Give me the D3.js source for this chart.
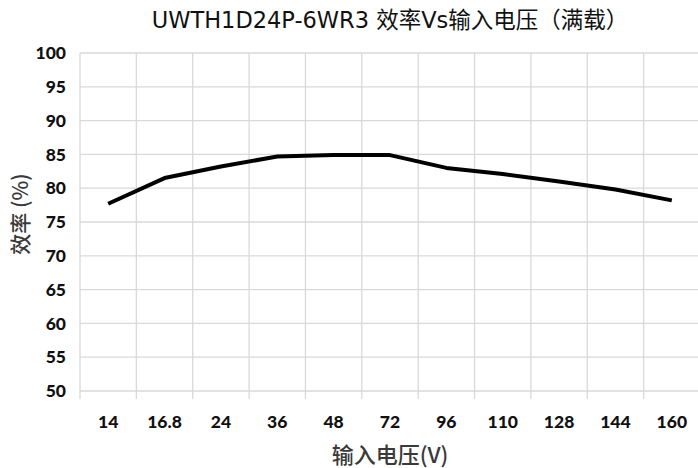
<!DOCTYPE html>
<html>
<head>
<meta charset="utf-8">
<script src="https://cdn.jsdelivr.net/npm/d3@7"></script>
<style>
    html, body { margin: 0; padding: 0; background: #fff; overflow: hidden; }
    svg { display: block; }
</style>
</head>
<body>
<div id="chart"></div>
<script>
// Chart data
const voltages = ["14", "16.8", "24", "36", "48", "72", "96", "110", "128", "144", "160"];
const efficiency = [77.7, 81.5, 83.2, 84.7, 84.9, 84.9, 83.0, 82.1, 81.0, 79.8, 78.2];
const yTicks = [50, 55, 60, 65, 70, 75, 80, 85, 90, 95, 100];

const width = 698, height = 468;
const margin = {top: 53, right: -2, bottom: 77, left: 80};

const svg = d3.select("#chart")
              .append("svg")
              .attr("width", width)
              .attr("height", height);

let x = d3.scaleBand()
          .domain(voltages)
          .range([margin.left, width - margin.right]);

let y = d3.scaleLinear()
          .domain([50, 100])
          .range([height - margin.bottom, margin.top]);

const gridColor = "#d9d9d9";
const tickFont = "Lato, 'Open Sans', sans-serif";

// Horizontal grid lines
svg.append("g")
   .selectAll("line")
   .data(yTicks)
   .enter()
   .append("line")
   .attr("x1", margin.left)
   .attr("x2", width - margin.right)
   .attr("y1", (d) => y(d))
   .attr("y2", (d) => y(d))
   .attr("stroke", gridColor)
   .attr("stroke-width", 1.3);

// Vertical grid lines on band edges, running down as tick marks
let edges = voltages.map((v) => x(v)).concat([x(voltages[voltages.length - 1]) + x.bandwidth()]);
svg.append("g")
   .selectAll("line")
   .data(edges)
   .enter()
   .append("line")
   .attr("x1", (d) => d)
   .attr("x2", (d) => d)
   .attr("y1", y(100))
   .attr("y2", y(50) + 8)
   .attr("stroke", gridColor)
   .attr("stroke-width", 1.3);

// Y tick labels
svg.append("g")
   .selectAll("text")
   .data(yTicks)
   .enter()
   .append("text")
   .attr("x", 66)
   .attr("y", (d) => y(d))
   .attr("dy", "0.35em")
   .attr("text-anchor", "end")
   .style("font-family", tickFont)
   .style("font-weight", "900")
   .style("font-size", "17.5px")
   .style("fill", "#111")
   .text((d) => d);

// X tick labels
svg.append("g")
   .selectAll("text")
   .data(voltages)
   .enter()
   .append("text")
   .attr("x", (d) => x(d) + x.bandwidth() / 2)
   .attr("y", 422)
   .attr("dy", "0.35em")
   .attr("text-anchor", "middle")
   .style("font-family", tickFont)
   .style("font-weight", "900")
   .style("font-size", "17.5px")
   .style("fill", "#111")
   .text((d) => d);

// Efficiency line
let line = d3.line()
             .x((d, i) => x(voltages[i]) + x.bandwidth() / 2)
             .y((d) => y(d));

svg.append("path")
   .datum(efficiency)
   .attr("d", line)
   .attr("fill", "none")
   .attr("stroke", "#000")
   .attr("stroke-width", 4)
   .attr("stroke-linejoin", "round");

// Title
svg.append("text")
   .attr("x", 390)
   .attr("y", 28)
   .attr("text-anchor", "middle")
   .style("font-family", "'DejaVu Sans', 'Noto Sans CJK SC', sans-serif")
   .style("font-size", "22.5px")
   .style("fill", "#111")
   .text("UWTH1D24P-6WR3 效率Vs输入电压（满载）");

// Axis titles
svg.append("text")
   .attr("x", 390)
   .attr("y", 455)
   .attr("dy", "0.35em")
   .attr("text-anchor", "middle")
   .style("font-family", "'Noto Sans CJK SC', sans-serif")
   .style("font-weight", "500")
   .style("font-size", "22px")
   .style("fill", "#3a3a3a")
   .text("输入电压(V)");

svg.append("text")
   .attr("transform", "translate(21, 214) rotate(-90)")
   .attr("dy", "0.35em")
   .attr("text-anchor", "middle")
   .style("font-family", "'Noto Sans CJK SC', sans-serif")
   .style("font-weight", "500")
   .style("font-size", "21px")
   .style("fill", "#3a3a3a")
   .text("效率 (%)");
</script>
</body>
</html>
